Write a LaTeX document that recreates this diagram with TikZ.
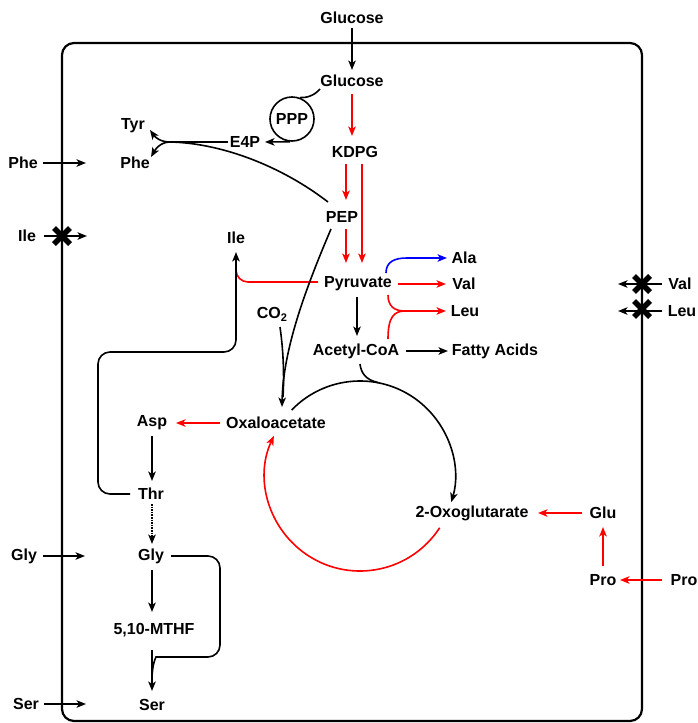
\documentclass[tikz,border=0pt]{standalone}
\usepackage{fontspec}
\setmainfont{Liberation Sans}
\usetikzlibrary{arrows.meta}
\begin{document}
\begin{tikzpicture}[x=1pt,y=-1pt,
  lbl/.style={inner sep=0pt, font=\fontsize{16}{18}\selectfont\bfseries},
  con/.style={line width=1.6pt},
  arr/.style={con, -{Stealth[length=9.5pt,width=7.5pt,inset=2.5pt]}},
  rarr/.style={arr, red},
  barr/.style={arr, blue},
  rline/.style={con, red},
  xmk/.style={line width=5.5pt},
  mem/.style={line width=2.2pt, rounded corners=12pt}]
\useasboundingbox (0,0) rectangle (698,723);
% membrane
\draw[mem] (62,43) rectangle (642,721);
% nodes
\node[lbl] (glcout) at (352,18) {Glucose};
\node[lbl] (glcin) at (352,81) {Glucose};
\node[lbl, circle, draw, line width=1.6pt, minimum size=44pt] (ppp) at (292,119) {PPP};
\node[lbl] (e4p) at (245,142) {E4P};
\node[lbl] (tyr) at (133,126) {Tyr};
\node[lbl] (phe) at (135,163) {Phe};
\node[lbl] (pheout) at (23,163) {Phe};
\node[lbl] (ileout) at (27,236) {Ile};
\node[lbl] (ile) at (236,238) {Ile};
\node[lbl] (kdpg) at (355,152) {KDPG};
\node[lbl] (pep) at (342,217) {PEP};
\node[lbl] (pyr) at (358,284) {Pyruvate};
\node[lbl] (ala) at (464,258) {Ala};
\node[lbl] (val) at (464,284) {Val};
\node[lbl] (leu) at (465,311) {Leu};
\node[lbl] (co2) at (272,314) {CO\raisebox{-0.35ex}{\fontsize{11}{12}\selectfont 2}};
\node[lbl] (acoa) at (356,351) {Acetyl-CoA};
\node[lbl] (fa) at (495,351) {Fatty Acids};
\node[lbl] (oaa) at (276,423) {Oxaloacetate};
\node[lbl] (asp) at (152,423) {Asp};
\node[lbl] (thr) at (151,494) {Thr};
\node[lbl] (gly) at (151,556) {Gly};
\node[lbl] (mthf) at (154,630) {5,10-MTHF};
\node[lbl] (ser) at (152,705) {Ser};
\node[lbl] (glyout) at (24,556) {Gly};
\node[lbl] (serout) at (26,704) {Ser};
\node[lbl] (oxo) at (472,513) {2-Oxoglutarate};
\node[lbl] (glu) at (603,513) {Glu};
\node[lbl] (pro) at (603,580) {Pro};
\node[lbl] (proout) at (684,580) {Pro};
\node[lbl] (valout) at (680,284) {Val};
\node[lbl] (leuout) at (682,311) {Leu};
\coordinate (br) at (170,142);
\coordinate (cI) at (98,352);
\coordinate (lm) at (405,311);
\coordinate (tca) at (360,476);
% glucose uptake and PPP
\draw[arr] ([shift={(0,10)}]glcout.center) -- ([shift={(0,-11)}]glcin.center);
\draw[rarr] ([shift={(0,13)}]glcin.center) -- ([shift={(-3,-16)}]kdpg.center);
\draw[con] ([shift={(-32,8)}]glcin.center) .. controls (314,96) and (306,98) .. (ppp.70);
\draw[arr] (ppp.265) -- ([shift={(20,0)}]e4p.center);
\draw[con] ([shift={(-17,0)}]e4p.center) -- (br);
\draw[arr] (br) .. controls (160,142) and (155,137) .. ([shift={(17,4)}]tyr.center);
\draw[arr] (br) .. controls (160,142) and (155,150) .. ([shift={(16,-6)}]phe.center);
\draw[con] ([shift={(-14,-15)}]pep.center) .. controls (280,165) and (220,143) .. (br);
% membrane transport
\draw[arr] ([shift={(20,0)}]pheout.center) -- ([shift={(63,0)}]pheout.center);
\draw[arr] ([shift={(17,0)}]ileout.center) -- ([shift={(60,0)}]ileout.center);
\draw[xmk] (54,228) -- (70,244) (54,244) -- (70,228);
\draw[arr] ([shift={(19,0)}]glyout.center) -- ([shift={(61,0)}]glyout.center);
\draw[arr] ([shift={(18,0)}]serout.center) -- ([shift={(60,0)}]serout.center);
\draw[arr] ([shift={(-18,0)}]valout.center) -- ([shift={(-62,0)}]valout.center);
\draw[xmk] (634,276) -- (650,292) (634,292) -- (650,276);
\draw[arr] ([shift={(-20,0)}]leuout.center) -- ([shift={(-64,0)}]leuout.center);
\draw[xmk] (634,301) -- (650,317) (634,317) -- (650,301);
\draw[rarr] ([shift={(-22,0)}]proout.center) -- ([shift={(17,0)}]pro.center);
% glycolysis
\draw[rarr] ([shift={(-9,12)}]kdpg.center) -- ([shift={(4,-17)}]pep.center);
\draw[rarr] ([shift={(7,12)}]kdpg.center) -- ([shift={(4,-21)}]pyr.center);
\draw[rarr] ([shift={(4,12)}]pep.center) -- ([shift={(-12,-21)}]pyr.center);
\draw[rline, rounded corners=12pt] ([shift={(-40,-2)}]pyr.center) -| ([shift={(0,32)}]ile.center);
\draw[arr, rounded corners=12pt] ([shift={(-21,0)}]thr.center) -| (cI) -| ([shift={(0,14)}]ile.center);
\draw[arr] ([shift={(-11,12)}]pep.center) .. controls (305,290) and (283,350) .. ([shift={(6,-16)}]oaa.center);
\draw[con] ([shift={(8,13)}]co2.center) .. controls (284,355) and (284,380) .. (283,397);
\draw[arr] ([shift={(-1,13)}]pyr.center) -- ([shift={(1,-15)}]acoa.center);
\draw[arr] ([shift={(50,0)}]acoa.center) -- ([shift={(-47,0)}]fa.center);
\draw[barr] ([shift={(28,-11)}]pyr.center) .. controls (386,262) and (394,258) .. (407,258) -- ([shift={(-17,0)}]ala.center);
\draw[rarr] ([shift={(40,0)}]pyr.center) -- ([shift={(-18,0)}]val.center);
\draw[rline] ([shift={(30,11)}]pyr.center) .. controls (388,306) and (394,311) .. (lm);
\draw[rline] ([shift={(32,-12)}]acoa.center) .. controls (388,317) and (394,311) .. (lm);
\draw[rarr] (lm) -- ([shift={(-19,0)}]leu.center);
% TCA
\draw[con] ([shift={(4,13)}]acoa.center) .. controls (361,373) and (366,380) .. (378,382.5);
\draw[arr] ([shift={(-136:95)}]tca) arc[start angle=-136, end angle=16, radius=95];
\draw[rarr] ([shift={(33:95)}]tca) arc[start angle=33, end angle=205, radius=95];
\draw[rarr] ([shift={(-56,0)}]oaa.center) -- ([shift={(24,0)}]asp.center);
\draw[rarr] ([shift={(0,-14)}]pro.center) -- ([shift={(0,14)}]glu.center);
\draw[rarr] ([shift={(-21,0)}]glu.center) -- ([shift={(66,0)}]oxo.center);
% Asp family and Gly/Ser
\draw[arr] ([shift={(0,13)}]asp.center) -- ([shift={(1,-13)}]thr.center);
\draw[arr, densely dotted] ([shift={(1,10)}]thr.center) -- ([shift={(1,-12)}]gly.center);
\draw[arr] ([shift={(1,14)}]gly.center) -- ([shift={(-2,-18)}]mthf.center);
\draw[arr] ([shift={(-2,20)}]mthf.center) -- ([shift={(0,-14)}]ser.center);
\draw[con, rounded corners=12pt] ([shift={(20,0)}]gly.center) -| (220,657) -- (168,657) .. controls (156,657) and (152,664) .. (152,680);
\end{tikzpicture}
\end{document}
